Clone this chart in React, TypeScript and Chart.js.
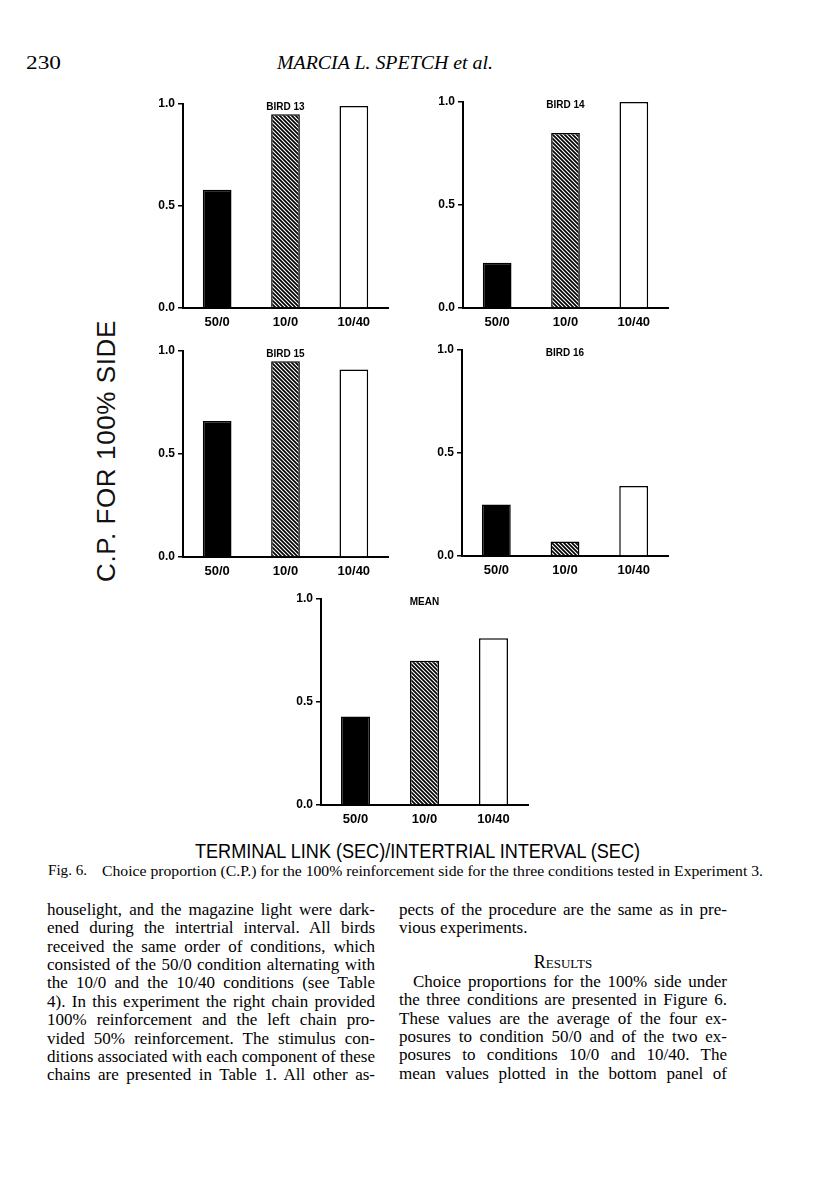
import React, { useEffect, useLayoutEffect, useRef } from 'react';
import { Chart, registerables } from 'chart.js';

Chart.register(...registerables);

// ---------------- data ----------------
const CONDITIONS = ['50/0', '10/0', '10/40'];
const BIRD_13 = [0.58, 0.95, 0.99];
const BIRD_14 = [0.22, 0.85, 1.0];
const BIRD_15 = [0.66, 0.95, 0.91];
const BIRD_16 = [0.25, 0.07, 0.34];
const MEAN_CP = [0.43, 0.7, 0.81];
const PANEL_TITLES = ['BIRD 13', 'BIRD 14', 'BIRD 15', 'BIRD 16', 'MEAN'];
const PANEL_SERIES = [BIRD_13, BIRD_14, BIRD_15, BIRD_16, MEAN_CP];
const Y_TICKS = [0, 0.5, 1.0];
const Y_TITLE = 'C.P. FOR 100% SIDE';
const X_TITLE = 'TERMINAL LINK (SEC)/INTERTRIAL INTERVAL (SEC)';

const PAGE_NUMBER = '230';
const RUNNING_HEAD = 'MARCIA L. SPETCH et al.';
const CAPTION_LABEL = 'Fig. 6.';
const CAPTION_TEXT =
  'Choice proportion (C.P.) for the 100% reinforcement side for the three conditions tested in Experiment 3.';

const LEFT_LINES = [
  'houselight, and the magazine light were dark-',
  'ened during the intertrial interval. All birds',
  'received the same order of conditions, which',
  'consisted of the 50/0 condition alternating with',
  'the 10/0 and the 10/40 conditions (see Table',
  '4). In this experiment the right chain provided',
  '100% reinforcement and the left chain pro-',
  'vided 50% reinforcement. The stimulus con-',
  'ditions associated with each component of these',
  'chains are presented in Table 1. All other as-',
];
const RIGHT_LINES_TOP = [
  'pects of the procedure are the same as in pre-',
  'vious experiments.',
];
const RESULTS_HEADING = 'Results';
const RIGHT_LINES_RESULTS = [
  'Choice proportions for the 100% side under',
  'the three conditions are presented in Figure 6.',
  'These values are the average of the four ex-',
  'posures to condition 50/0 and of the two ex-',
  'posures to conditions 10/0 and 10/40. The',
  'mean values plotted in the bottom panel of',
];

// ---------------- layout (page px) ----------------
const PANEL_BOXES = [
  { left: 183, right: 388, top: 104, bottom: 308 },
  { left: 463, right: 668, top: 102, bottom: 308 },
  { left: 183, right: 388, top: 351, bottom: 557 },
  { left: 462, right: 668, top: 350, bottom: 556 },
  { left: 321, right: 528, top: 599, bottom: 805 },
];

const SERIF = '"Liberation Serif", "Times New Roman", serif';
const SANS = '"Liberation Sans", Arial, Helvetica, sans-serif';

function makeHatch(): CanvasPattern | string {
  const c = document.createElement('canvas');
  const s = 4;
  c.width = s;
  c.height = s;
  const g = c.getContext('2d');
  if (!g) return '#555';
  g.fillStyle = '#fff';
  g.fillRect(0, 0, s, s);
  g.strokeStyle = '#000';
  g.lineWidth = 1.7;
  g.beginPath();
  g.moveTo(-1, -1);
  g.lineTo(s + 1, s + 1);
  g.moveTo(s - 1, -1);
  g.lineTo(s + 1, 1);
  g.moveTo(-1, s - 1);
  g.lineTo(1, s + 1);
  g.stroke();
  return g.createPattern(c, 'repeat') || '#555';
}

const panelTitlePlugin = {
  id: 'panelTitle',
  afterDraw(chart: any, _args: any, opts: any) {
    const { ctx, chartArea } = chart;
    ctx.save();
    ctx.font = `bold 10px ${SANS}`;
    ctx.fillStyle = '#000';
    ctx.textAlign = 'center';
    ctx.textBaseline = 'middle';
    ctx.fillText(opts.text, (chartArea.left + chartArea.right) / 2, chartArea.top + 3);
    ctx.restore();
  },
};

const YW = 45;
const PT = 14;
const PR = 4;
const XH = 30;

function BarPanel({ values, title, box }: { values: number[]; title: string; box: any }) {
  const ref = useRef<HTMLCanvasElement>(null);
  const w = box.right - box.left + YW + PR;
  const h = box.bottom - box.top + PT + XH;
  useEffect(() => {
    if (!ref.current) return;
    const hatch = makeHatch();
    const chart = new Chart(ref.current, {
      type: 'bar',
      data: {
        labels: CONDITIONS,
        datasets: [
          {
            data: values,
            backgroundColor: ['#000', hatch as any, '#fff'],
            borderColor: '#000',
            borderWidth: 1.5,
            categoryPercentage: 1,
            barPercentage: 0.42,
          },
        ],
      },
      options: {
        animation: false,
        responsive: false,
        maintainAspectRatio: false,
        events: [],
        layout: { padding: { top: PT, right: PR, left: 0, bottom: 0 } },
        plugins: {
          legend: { display: false },
          tooltip: { enabled: false },
          title: { display: false },
          panelTitle: { text: title },
        } as any,
        scales: {
          x: {
            offset: true,
            grid: { display: false, drawTicks: false },
            border: { display: true, color: '#000', width: 2 },
            ticks: {
              color: '#000',
              font: { family: SANS, weight: 'bold', size: 13 },
              padding: 7,
              maxRotation: 0,
              autoSkip: false,
            },
            afterFit: (s: any) => {
              s.height = XH;
            },
          },
          y: {
            min: 0,
            max: 1,
            grid: {
              display: true,
              drawOnChartArea: false,
              drawTicks: true,
              tickLength: 5,
              color: '#000',
              lineWidth: 1.5,
            },
            border: { display: true, color: '#000', width: 2 },
            ticks: {
              color: '#000',
              font: { family: SANS, weight: 'bold', size: 12 },
              padding: 3,
              callback: (v: any) => Number(v).toFixed(1),
            },
            afterBuildTicks: (s: any) => {
              s.ticks = Y_TICKS.map((v) => ({ value: v }));
            },
            afterFit: (s: any) => {
              s.width = YW;
            },
          },
        },
      } as any,
      plugins: [panelTitlePlugin],
    });
    return () => chart.destroy();
  }, []);
  return (
    <canvas
      ref={ref}
      width={w}
      height={h}
      style={{ position: 'absolute', left: box.left - YW, top: box.top - PT, width: w, height: h }}
    />
  );
}

function topFor(baseline: number, size: number, serif: boolean) {
  return baseline - (serif ? 0.8375 : 0.8465) * size;
}

// a line of text spread (word spacing) to fill a given width
function BodyLine({
  x,
  baseline,
  width,
  text,
  justify,
  size = 17,
}: {
  x: number;
  baseline: number;
  width: number;
  text: string;
  justify: boolean;
  size?: number;
}) {
  const ref = useRef<HTMLSpanElement>(null);
  useLayoutEffect(() => {
    const el = ref.current;
    if (!el) return;
    el.style.wordSpacing = '0px';
    const natural = el.getBoundingClientRect().width;
    const gaps = (text.match(/ /g) || []).length;
    if (gaps > 0 && (justify || natural > width)) {
      el.style.wordSpacing = `${(width - natural) / gaps}px`;
    }
  }, [text, width, justify]);
  return (
    <span
      ref={ref}
      style={{
        position: 'absolute',
        left: x,
        top: topFor(baseline, size, true),
        whiteSpace: 'pre',
        fontFamily: SERIF,
        fontSize: size,
        lineHeight: `${size}px`,
        color: '#000',
      }}
    >
      {text}
    </span>
  );
}

// a line of text horizontally scaled to a given width
function FitText({
  left,
  baseline,
  width,
  size,
  text,
  serif = false,
  italic = false,
}: {
  left: number;
  baseline: number;
  width: number;
  size: number;
  text: string;
  serif?: boolean;
  italic?: boolean;
}) {
  const ref = useRef<HTMLSpanElement>(null);
  useLayoutEffect(() => {
    const el = ref.current;
    if (!el) return;
    el.style.transform = 'none';
    const natural = el.getBoundingClientRect().width;
    const k = width / natural;
    el.style.transform = `scaleX(${k})`;
  }, [text, width]);
  return (
    <span
      ref={ref}
      style={{
        position: 'absolute',
        left,
        top: topFor(baseline, size, serif),
        whiteSpace: 'pre',
        fontFamily: serif ? SERIF : SANS,
        fontStyle: italic ? 'italic' : 'normal',
        fontSize: size,
        lineHeight: `${size}px`,
        transformOrigin: '0 0',
        color: '#000',
      }}
    >
      {text}
    </span>
  );
}

export default function App() {
  const LINE_H = 18.4;
  const FIRST_BASE = 915;
  const LEFT_X = 47;
  const RIGHT_X = 399;
  const COL_W = 328;
  return (
    <div
      style={{
        position: 'absolute',
        left: 0,
        top: 0,
        width: 816,
        height: 1193,
        background: '#fff',
        overflow: 'hidden',
      }}
    >
      {/* running head */}
      <FitText left={26} baseline={69} width={35} size={18} text={PAGE_NUMBER} serif />
      <FitText left={277} baseline={69} width={216} size={18} text={RUNNING_HEAD} serif italic />

      {/* panels */}
      {PANEL_SERIES.map((vals, i) => (
        <BarPanel key={i} values={vals} title={PANEL_TITLES[i]} box={PANEL_BOXES[i]} />
      ))}

      {/* y title */}
      <div
        style={{
          position: 'absolute',
          left: 106,
          top: 451,
          transform: 'translate(-50%, -50%) rotate(-90deg)',
          fontFamily: SANS,
          fontSize: 26,
          lineHeight: '26px',
          letterSpacing: '0.6px',
          whiteSpace: 'pre',
          color: '#111',
        }}
      >
        {Y_TITLE}
      </div>

      {/* x title */}
      <FitText left={195} baseline={858} width={445} size={20} text={X_TITLE} />

      {/* caption */}
      <FitText left={48} baseline={876} width={39} size={14} text={CAPTION_LABEL} serif />
      <FitText left={102} baseline={876} width={661} size={14.5} text={CAPTION_TEXT} serif />

      {/* left column */}
      {LEFT_LINES.map((t, i) => (
        <BodyLine
          key={'l' + i}
          x={LEFT_X}
          baseline={FIRST_BASE + i * LINE_H}
          width={COL_W}
          text={t}
          justify={true}
        />
      ))}

      {/* right column */}
      {RIGHT_LINES_TOP.map((t, i) => (
        <BodyLine
          key={'rt' + i}
          x={RIGHT_X}
          baseline={FIRST_BASE + i * LINE_H}
          width={COL_W}
          text={t}
          justify={i < RIGHT_LINES_TOP.length - 1}
        />
      ))}
      <span
        style={{
          position: 'absolute',
          left: RIGHT_X,
          width: COL_W,
          textAlign: 'center',
          top: topFor(968, 18, true),
          fontFamily: SERIF,
          fontSize: 18,
          lineHeight: '18px',
          fontVariant: 'small-caps',
          whiteSpace: 'pre',
          color: '#000',
        }}
      >
        {RESULTS_HEADING}
      </span>
      {RIGHT_LINES_RESULTS.map((t, i) => (
        <BodyLine
          key={'rr' + i}
          x={RIGHT_X + (i === 0 ? 14 : 0)}
          baseline={987 + i * LINE_H}
          width={COL_W - (i === 0 ? 14 : 0)}
          text={t}
          justify={true}
        />
      ))}
    </div>
  );
}
